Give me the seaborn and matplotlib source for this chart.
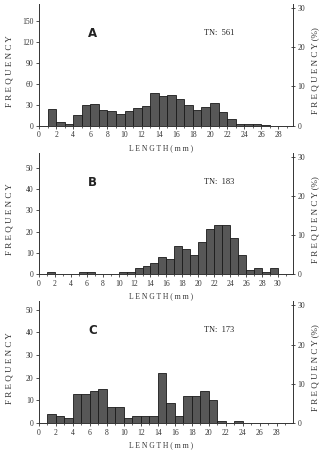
import numpy as np
import pandas as pd
import matplotlib
matplotlib.use("Agg")
import matplotlib.pyplot as plt
import seaborn as sns
from matplotlib.ticker import MultipleLocator

sns.set_theme(style="ticks")
plt.rcParams['font.family'] = ['Liberation Serif', 'DejaVu Serif']

# Data: 1-mm length classes (left edge, mm) and counts
bins_a = list(range(1, 27))
counts_a = [24, 5, 3, 15, 29, 31, 22, 21, 17, 21, 26, 28, 47, 42, 44, 38, 29, 22, 27, 33, 19, 9, 3, 2, 2, 1]
bins_b = [1, 5, 6, 10, 11, 12, 13, 14, 15, 16, 17, 18, 19, 20, 21, 22, 23, 24, 25, 26, 27, 28, 29]
counts_b = [1, 1, 1, 1, 1, 3, 4, 5, 8, 7, 13, 12, 9, 15, 21, 23, 23, 17, 9, 2, 3, 1, 3]
bins_c = [1, 2, 3, 4, 5, 6, 7, 8, 9, 10, 11, 12, 13, 14, 15, 16, 17, 18, 19, 20, 21, 23]
counts_c = [4, 3, 2, 13, 13, 14, 15, 7, 7, 2, 3, 3, 3, 22, 9, 3, 12, 12, 14, 10, 1, 1]
panel_labels = ["A", "B", "C"]
totals = [561, 183, 173]
left_ticks = [[0, 30, 60, 90, 120, 150], [0, 10, 20, 30, 40, 50], [0, 10, 20, 30, 40, 50]]
right_ticks = [0, 10, 20, 30]
xtick_max = [28, 30, 28]

panels = [(bins_a, counts_a), (bins_b, counts_b), (bins_c, counts_c)]
ylims = [174, 57, 54]
xlims = [29.7, 31.9, 29.9]
rects = [(0.1207, 0.7207, 0.7864, 0.2704),
         (0.1207, 0.3911, 0.7864, 0.2689),
         (0.1207, 0.0600, 0.7864, 0.2718)]
label_y = [1 - 148 / 450, 1 - 296 / 450, 1 - 445.5 / 450]

fig = plt.figure(figsize=(3.23, 4.5), dpi=100)
fs = 5.5
for i, ((bins, counts), rect) in enumerate(zip(panels, rects)):
    ax = fig.add_axes(rect)
    df = pd.DataFrame({"length": np.array(bins, dtype=float) + 0.5,
                       "n": np.array(counts, dtype=float)})
    sns.histplot(data=df, x="length", weights="n", binwidth=1, binrange=(0, 31),
                 color="#575757", edgecolor="#1a1a1a", linewidth=0.6, alpha=1,
                 ax=ax)
    ax.set_xlim(0, xlims[i])
    ax.set_ylim(0, ylims[i])
    ax.set_xticks(np.arange(0, xtick_max[i] + 1, 2))
    ax.xaxis.set_minor_locator(MultipleLocator(1))
    ax.set_yticks(left_ticks[i])
    ax.tick_params(axis='both', labelsize=fs, length=2.5, width=0.6, colors="#333333", pad=1.5)
    ax.tick_params(axis='x', which='minor', length=1.5, width=0.5)
    ax.set_xlabel("")
    ax.set_ylabel("")
    for s in ["top", "right"]:
        ax.spines[s].set_visible(False)
    for s in ["left", "bottom"]:
        ax.spines[s].set_linewidth(0.7)
        ax.spines[s].set_color("#333333")
    ax2 = ax.twinx()
    ax2.set_ylim(0, ylims[i] * 100 / totals[i])
    ax2.set_yticks(right_ticks)
    ax2.tick_params(axis='y', labelsize=fs, length=2.5, width=0.6, direction='inout', colors="#333333", pad=2)
    for s in ["top", "left", "bottom"]:
        ax2.spines[s].set_visible(False)
    ax2.spines["right"].set_linewidth(0.7)
    ax2.spines["right"].set_color("#333333")
    ax.text(0.193, 0.76, panel_labels[i], transform=ax.transAxes, fontsize=8.5,
            fontweight='bold', family=['DejaVu Sans'], ha='left', va='center', color="#222222")
    ax.text(0.65, 0.76, f"TN:  {totals[i]}", transform=ax.transAxes, fontsize=6,
            ha='left', va='center', color="#222222")
    cy = rect[1] + rect[3] * 0.45
    fig.text(10 / 323, cy, "F R E Q U E N C Y", rotation=90, fontsize=6.5,
             ha='center', va='center', color="#333333")
    fig.text(315 / 323, cy, "F R E Q U E N C Y (%)", rotation=90, fontsize=6.5,
             ha='center', va='center', color="#333333")
    fig.text(rect[0] + rect[2] * 0.48, label_y[i], "L E N G T H ( m m )", fontsize=5.5,
             ha='center', va='center', color="#333333")

fig.savefig("out.png", dpi=100)
